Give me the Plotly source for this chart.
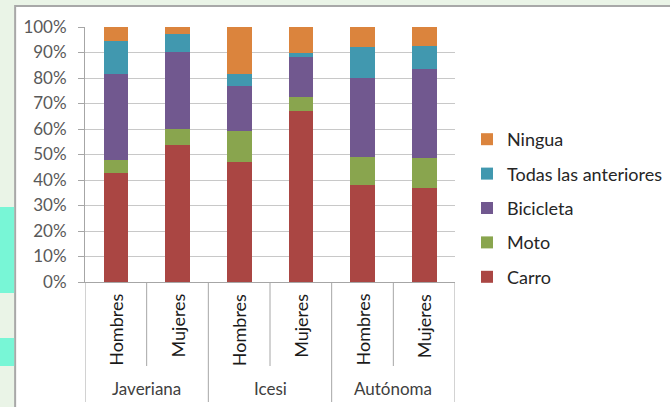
import plotly.graph_objects as go

universities = ["Javeriana", "Icesi", "Autónoma"]
genders = ["Hombres", "Mujeres"]
categories = ["Javeriana|Hombres", "Javeriana|Mujeres", "Icesi|Hombres",
              "Icesi|Mujeres", "Autónoma|Hombres", "Autónoma|Mujeres"]
cat_gender = ["Hombres", "Mujeres", "Hombres", "Mujeres", "Hombres", "Mujeres"]

series_names = ["Carro", "Moto", "Bicicleta", "Todas las anteriores", "Ningua"]
carro = [42.7, 53.9, 47.0, 67.2, 37.9, 36.8]
moto = [5.0, 6.2, 12.4, 5.3, 11.2, 11.9]
bicicleta = [33.9, 30.2, 17.4, 15.6, 31.0, 35.0]
todas = [13.0, 7.1, 4.7, 1.7, 12.0, 8.7]
ningua = [5.4, 2.6, 18.5, 10.2, 7.9, 7.6]
series_values = [carro, moto, bicicleta, todas, ningua]
colors = ["#AA4643", "#89A54E", "#71588F", "#4198AF", "#DB843D"]

y_ticks = list(range(0, 101, 10))

FONT = "Lato"
W, H = 670, 407
L, R, T, B = 85, 209, 27, 125
PW, PH = W - L - R, H - T - B


def px_x(px):
    return (px - L) / PW


def px_y(py):
    return (H - B - py) / PH


fig = go.Figure()
nser = len(series_names)
for i, (name, vals, col) in enumerate(zip(series_names, series_values, colors)):
    fig.add_trace(go.Bar(
        x=categories, y=vals, name=name, marker=dict(color=col, line=dict(width=0)),
        legendgroup=name, legendrank=nser - i,
    ))

shapes = []
# background frame
shapes.append(dict(type="rect", xref="paper", yref="paper",
                   x0=px_x(14), x1=px_x(720), y0=px_y(440), y1=px_y(6),
                   fillcolor="white", line=dict(color="#A8A8A8", width=2), layer="below"))
shapes.append(dict(type="rect", xref="paper", yref="paper",
                   x0=px_x(-5), x1=px_x(13), y0=px_y(293), y1=px_y(207),
                   fillcolor="#78F6D6", line=dict(width=0), layer="below"))
shapes.append(dict(type="rect", xref="paper", yref="paper",
                   x0=px_x(-5), x1=px_x(13), y0=px_y(366), y1=px_y(338),
                   fillcolor="#78F6D6", line=dict(width=0), layer="below"))
# category dividers
n = len(categories)
for k in range(n + 1):
    outer = (k % 2 == 0)
    shapes.append(dict(type="line", xref="x", yref="paper",
                       x0=k - 0.5, x1=k - 0.5, y0=0, y1=px_y(402 if outer else 366),
                       line=dict(color="#A6A6A6", width=1)))

annotations = []
for c, g in zip(categories, cat_gender):
    annotations.append(dict(x=c, y=px_y(292), xref="x", yref="paper", text=g,
                            textangle=-90, showarrow=False, xanchor="center", yanchor="top",
                            font=dict(family=FONT, size=18, color="#1a1a1a")))
for j, u in enumerate(universities):
    annotations.append(dict(x=2 * j + 0.5, y=px_y(388), xref="x", yref="paper", text=u,
                            showarrow=False, xanchor="center", yanchor="middle",
                            font=dict(family=FONT, size=17, color="#404040")))

fig.update_layout(
    width=W, height=H,
    margin=dict(l=L, r=R, t=T, b=B, pad=0),
    barmode="stack", bargap=0.6,
    paper_bgcolor="#EAF4E7", plot_bgcolor="white",
    font=dict(family=FONT, size=16, color="#595959"),
    shapes=shapes, annotations=annotations,
    showlegend=True,
    legend=dict(traceorder="grouped", tracegroupgap=8,
                xref="container", yref="container",
                x=467 / W, xanchor="left", y=1 - 208 / H, yanchor="middle",
                font=dict(family=FONT, size=18, color="#262626"),
                bgcolor="rgba(0,0,0,0)"),
    xaxis=dict(showticklabels=False, ticks="", showgrid=False, showline=True,
               linecolor="#A6A6A6", linewidth=1, range=[-0.5, n - 0.5], zeroline=False),
    yaxis=dict(range=[0, 100], tickvals=y_ticks, ticktext=[f"{v}%" for v in y_ticks],
               showgrid=True, gridcolor="#C8C8C8", gridwidth=1,
               showline=True, linecolor="#A6A6A6", linewidth=1,
               ticks="outside", ticklen=6, tickcolor="#A6A6A6",
               ticklabelstandoff=8, zeroline=False,
               tickfont=dict(family=FONT, size=17, color="#595959")),
)

fig.write_html("out.html", config={"displayModeBar": False},
               post_script="document.body.style.margin='0px';")
